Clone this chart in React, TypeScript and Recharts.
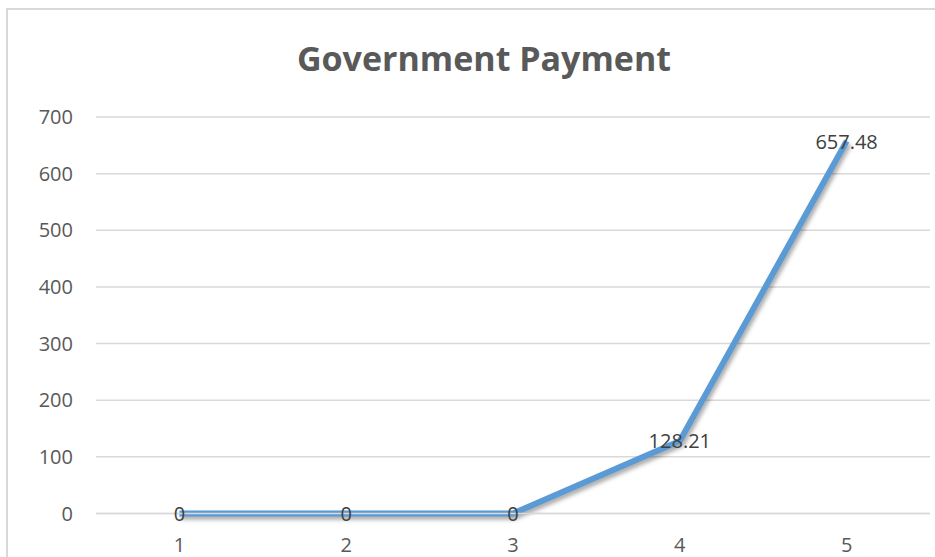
import { CartesianGrid, LabelList, Line, LineChart, XAxis, YAxis } from "recharts";

const categories = ["1", "2", "3", "4", "5"];
const payments = [0, 0, 0, 128.21, 657.48];
const yTicks = [0, 100, 200, 300, 400, 500, 600, 700];

const data = categories.map((c, i) => ({ name: c, value: payments[i] }));

const font = "'Open Sans', 'Liberation Sans', sans-serif";

// value label drawn centred on the point, like the spreadsheet chart
const PointLabel = (props: any) => {
  const { x, y, value } = props;
  return (
    <text
      x={x}
      y={y}
      textAnchor="middle"
      dominantBaseline="central"
      fill="#404040"
      fontSize={20}
      fontFamily={font}
    >
      {value}
    </text>
  );
};

export default function App() {
  return (
    <div style={{ position: "relative", width: 935, height: 557, overflow: "hidden", background: "#fff" }}>
      <style>{`body{margin:0}.recharts-line-curve{filter:drop-shadow(2px 3px 2px rgba(0,0,0,0.35));}`}</style>
      <div
        style={{
          position: "absolute",
          left: 6,
          top: 8,
          width: 1000,
          height: 700,
          border: "2px solid #d9d9d9",
          boxSizing: "border-box",
        }}
      />
      <div
        style={{
          position: "absolute",
          left: 0,
          width: 968,
          top: 33,
          textAlign: "center",
          fontFamily: font,
          fontWeight: 700,
          fontSize: 34,
          color: "#595959",
          lineHeight: "50px",
        }}
      >
        Government Payment
      </div>
      <div style={{ position: "absolute", left: 0, top: 0 }}>
        <LineChart width={935} height={557} data={data} margin={{ top: 117, right: 5, bottom: 13.5, left: 0 }}>
          <CartesianGrid vertical={false} stroke="#d9d9d9" strokeWidth={1.5} />
          <XAxis
            dataKey="name"
            height={30}
            padding={{ left: 83.4, right: 83.4 }}
            axisLine={{ stroke: "#d9d9d9", strokeWidth: 1.5 }}
            tickLine={false}
            tickSize={0}
            tickMargin={24.5}
            tick={{ fill: "#595959", fontSize: 20, fontFamily: font }}
          />
          <YAxis
            width={96}
            domain={[0, 700]}
            ticks={yTicks}
            axisLine={false}
            tickLine={false}
            tickSize={0}
            tickMargin={23}
            tick={{ fill: "#595959", fontSize: 20, fontFamily: font }}
          />
          <Line
            type="linear"
            dataKey="value"
            stroke="#5b9bd5"
            strokeWidth={6}
            strokeLinejoin="round"
            dot={false}
            activeDot={false}
            isAnimationActive={false}
          >
            <LabelList dataKey="value" content={PointLabel} />
          </Line>
        </LineChart>
      </div>
    </div>
  );
}
